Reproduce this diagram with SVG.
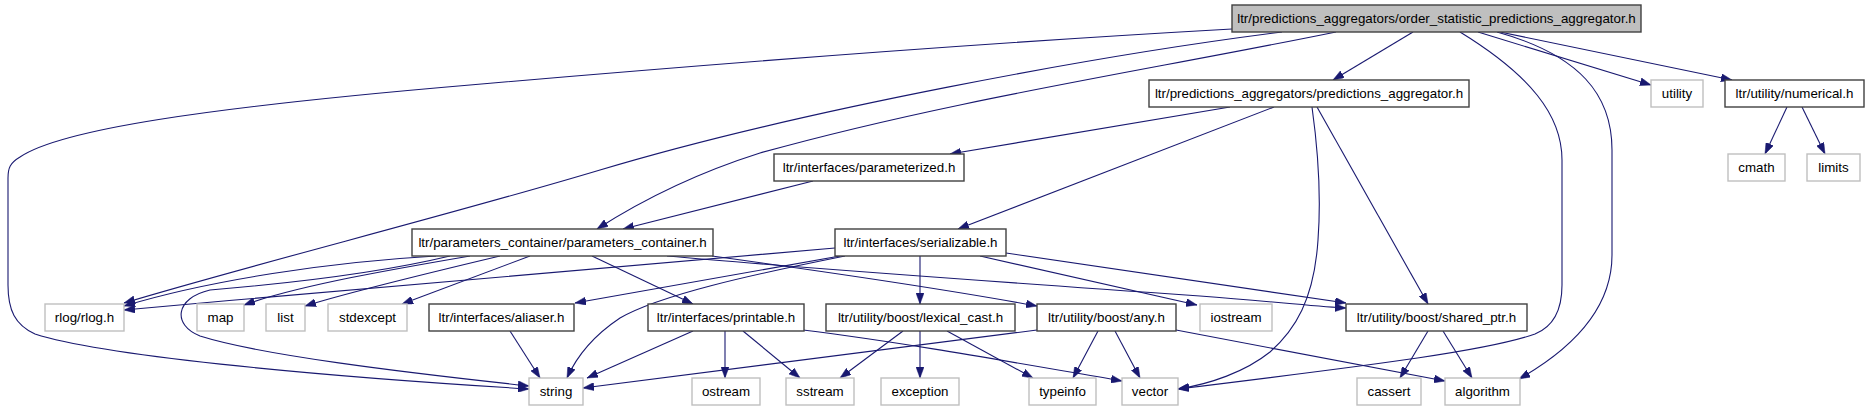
<svg xmlns="http://www.w3.org/2000/svg" width="1869" height="411" viewBox="0 0 1869 411">
<style>
.n rect{fill:#ffffff;stroke:#404040;stroke-width:1.4}
.g rect{fill:#ffffff;stroke:#bfbfbf;stroke-width:1.4}
.r rect{fill:#bfbfbf;stroke:#404040;stroke-width:1.4}
text{font-family:"Liberation Sans",Arial,sans-serif;font-size:13.33px;fill:#000000;text-anchor:middle}
#edges path{fill:none;stroke:#191970;stroke-width:1.1;marker-end:url(#arr)}
</style>
<defs>
<marker id="arr" markerWidth="11" markerHeight="8" refX="11" refY="4" orient="auto" markerUnits="userSpaceOnUse">
<path d="M0,0 L11,4 L0,8 z" fill="#191970" stroke="#191970" stroke-width="0.5"/>
</marker>
</defs>
<rect width="1869" height="411" fill="#ffffff"/>
<g id="edges">
<path d="M1232,29 C1000,42 700,65 470,85 C200,108 60,130 20,157 C10,163 8,168 8,178 L8,285 C8,310 15,325 35,334 C100,355 300,375 529,389"/>
<path d="M1282,32 C1100,55 800,110 600,170 C450,215 250,265 124,303"/>
<path d="M1336,32 C1150,70 950,100 760,153 C700,172 650,195 597,229"/>
<path d="M1413,32 L1333,80"/>
<path d="M1460,32 C1530,75 1562,115 1562,160 L1562,285 C1562,315 1550,328 1535,334 C1490,350 1390,363 1178,389"/>
<path d="M1497,32 C1580,55 1612,95 1612,150 L1612,255 C1612,310 1570,350 1519,379"/>
<path d="M1478,32 L1651,85"/>
<path d="M1500,32 L1732,80"/>
<path d="M1787,107 L1765,154"/>
<path d="M1802,107 L1825,154"/>
<path d="M1230,107 L950,154"/>
<path d="M1274,107 L958,229"/>
<path d="M1312,107 C1318,150 1321,200 1318,240 C1314,300 1295,330 1270,352 C1245,372 1210,384 1178,389"/>
<path d="M1317,107 L1428,304"/>
<path d="M813,181 L623,229"/>
<path d="M436,256 C330,262 210,280 124,306"/>
<path d="M450,256 C400,268 330,280 210,290 C175,298 172,325 200,336 C260,355 400,372 529,386"/>
<path d="M470,256 C400,268 300,285 244,305"/>
<path d="M500,256 C420,275 350,292 305,306"/>
<path d="M530,256 L402,304"/>
<path d="M592,256 L693,304"/>
<path d="M667,256 C800,268 1000,282 1200,296 C1280,302 1320,307 1346,308"/>
<path d="M712,256 C850,275 950,290 1037,306"/>
<path d="M835,248 C700,260 400,285 124,310"/>
<path d="M840,256 L575,303"/>
<path d="M845,256 C750,275 660,295 620,318 C590,338 575,360 567,378"/>
<path d="M920,256 L920,304"/>
<path d="M980,256 L1197,305"/>
<path d="M1006,253 L1346,303"/>
<path d="M693,331 L587,378"/>
<path d="M725,331 L725,378"/>
<path d="M743,331 L800,378"/>
<path d="M803,330 C900,342 1000,360 1122,381"/>
<path d="M510,331 L540,378"/>
<path d="M903,331 L840,378"/>
<path d="M920,331 L920,378"/>
<path d="M947,331 L1033,378"/>
<path d="M1037,330 L583,388"/>
<path d="M1098,331 L1073,378"/>
<path d="M1115,331 L1140,378"/>
<path d="M1176,330 L1445,381"/>
<path d="M1428,331 L1400,378"/>
<path d="M1443,331 L1472,378"/>
</g>
<g id="n_order" class="r"><rect x="1232" y="5" width="409" height="27"/><text x="1436.5" y="23">ltr/predictions_aggregators/order_statistic_predictions_aggregator.h</text></g>
<g id="n_pagg" class="n"><rect x="1149" y="80" width="320" height="27"/><text x="1309" y="98">ltr/predictions_aggregators/predictions_aggregator.h</text></g>
<g id="n_utility" class="g"><rect x="1651" y="80" width="52" height="27"/><text x="1677" y="98">utility</text></g>
<g id="n_numerical" class="n"><rect x="1725" y="80" width="139" height="27"/><text x="1794.5" y="98">ltr/utility/numerical.h</text></g>
<g id="n_cmath" class="g"><rect x="1728" y="154" width="57" height="27"/><text x="1756.5" y="172">cmath</text></g>
<g id="n_limits" class="g"><rect x="1807" y="154" width="53" height="27"/><text x="1833.5" y="172">limits</text></g>
<g id="n_parameterized" class="n"><rect x="774" y="154" width="190" height="27"/><text x="869" y="172">ltr/interfaces/parameterized.h</text></g>
<g id="n_pc" class="n"><rect x="412" y="229" width="301" height="27"/><text x="562.5" y="247">ltr/parameters_container/parameters_container.h</text></g>
<g id="n_serializable" class="n"><rect x="835" y="229" width="171" height="27"/><text x="920.5" y="247">ltr/interfaces/serializable.h</text></g>
<g id="n_rlog" class="g"><rect x="45" y="304" width="79" height="27"/><text x="84.5" y="322">rlog/rlog.h</text></g>
<g id="n_map" class="g"><rect x="197" y="304" width="47" height="27"/><text x="220.5" y="322">map</text></g>
<g id="n_list" class="g"><rect x="266" y="304" width="39" height="27"/><text x="285.5" y="322">list</text></g>
<g id="n_stdexcept" class="g"><rect x="328" y="304" width="79" height="27"/><text x="367.5" y="322">stdexcept</text></g>
<g id="n_aliaser" class="n"><rect x="429" y="304" width="145" height="27"/><text x="501.5" y="322">ltr/interfaces/aliaser.h</text></g>
<g id="n_printable" class="n"><rect x="648" y="304" width="156" height="27"/><text x="726" y="322">ltr/interfaces/printable.h</text></g>
<g id="n_lexical" class="n"><rect x="826" y="304" width="189" height="27"/><text x="920.5" y="322">ltr/utility/boost/lexical_cast.h</text></g>
<g id="n_any" class="n"><rect x="1037" y="304" width="139" height="27"/><text x="1106.5" y="322">ltr/utility/boost/any.h</text></g>
<g id="n_iostream" class="g"><rect x="1200" y="304" width="72" height="27"/><text x="1236" y="322">iostream</text></g>
<g id="n_shared" class="n"><rect x="1346" y="304" width="181" height="27"/><text x="1436.5" y="322">ltr/utility/boost/shared_ptr.h</text></g>
<g id="n_string" class="g"><rect x="529" y="378" width="54" height="27"/><text x="556" y="396">string</text></g>
<g id="n_ostream" class="g"><rect x="692" y="378" width="68" height="27"/><text x="726" y="396">ostream</text></g>
<g id="n_sstream" class="g"><rect x="786" y="378" width="68" height="27"/><text x="820" y="396">sstream</text></g>
<g id="n_exception" class="g"><rect x="881" y="378" width="78" height="27"/><text x="920" y="396">exception</text></g>
<g id="n_typeinfo" class="g"><rect x="1029" y="378" width="67" height="27"/><text x="1062.5" y="396">typeinfo</text></g>
<g id="n_vector" class="g"><rect x="1122" y="378" width="56" height="27"/><text x="1150" y="396">vector</text></g>
<g id="n_cassert" class="g"><rect x="1357" y="378" width="64" height="27"/><text x="1389" y="396">cassert</text></g>
<g id="n_algorithm" class="g"><rect x="1445" y="378" width="75" height="27"/><text x="1482.5" y="396">algorithm</text></g>
</svg>
